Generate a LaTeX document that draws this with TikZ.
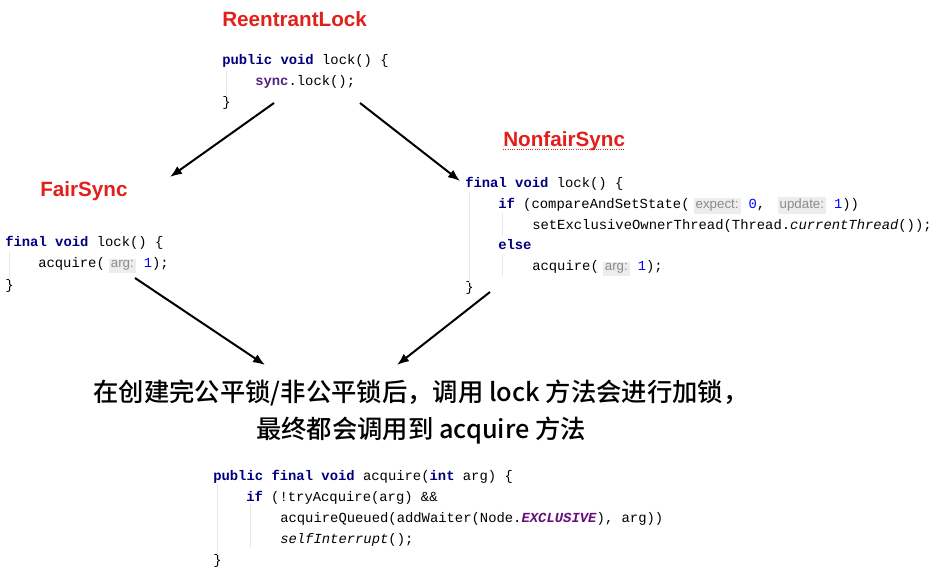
\documentclass[tikz,border=0pt]{standalone}
\usepackage{fontspec}
\usepackage{xcolor}
\usetikzlibrary{arrows.meta}
\setmainfont{Liberation Sans}
\setmonofont{Liberation Mono}
\newfontfamily\cjk{Noto Sans CJK SC}[BoldFont={Noto Sans CJK SC Medium}]
\newfontfamily\hintfont{Liberation Sans}
\definecolor{titlered}{RGB}{226,32,27}
\definecolor{kwblue}{RGB}{0,0,128}
\definecolor{numblue}{RGB}{0,0,255}
\definecolor{fieldpurple}{RGB}{82,36,130}
\definecolor{constpurple}{RGB}{102,14,122}
\definecolor{hintgray}{RGB}{140,140,140}
\definecolor{hintbg}{RGB}{237,237,237}
\definecolor{guidegray}{RGB}{230,230,230}
\newcommand{\kw}[1]{\textcolor{kwblue}{\textbf{#1}}}
\newcommand{\num}[1]{\textcolor{numblue}{#1}}
\newcommand{\fld}[1]{\textcolor{fieldpurple}{\textbf{#1}}}
\newcommand{\cnst}[1]{\textcolor{constpurple}{\textbf{\textit{#1}}}}
\newcommand{\hint}[1]{\hspace{3pt}{\setlength{\fboxsep}{1.5pt}\colorbox{hintbg}{\hintfont\fontsize{10}{12}\selectfont\textcolor{hintgray}{#1}}}\hspace{6pt}}
\tikzset{
  title/.style={anchor=base west, inner sep=0pt, text=titlered,
    font=\bfseries\fontsize{15.5}{18}\selectfont},
  code/.style={anchor=base west, inner sep=0pt, text=black,
    font=\ttfamily\fontsize{10.4}{12}\selectfont},
  guide/.style={draw=guidegray, line width=0.75pt},
  arr/.style={-{Latex[length=9pt,width=7pt]}, line width=1.5pt},
  summary/.style={align=center, inner sep=0pt,
    font=\cjk\bfseries\fontsize{19}{27.75}\selectfont}
}
\begin{document}
\begin{tikzpicture}[x=0.75pt,y=0.75pt]
	\useasboundingbox [fill=white] (0,0) rectangle (938,579);
	% ReentrantLock
	\node[title] (rlhead) at (222,552) {ReentrantLock};
	\node[code] (rl1) at (222,514) {\kw{public} \kw{void} lock() \{};
	\node[code] (rl2) at (255,493) {\fld{sync}.lock();};
	\node[code] (rl3) at (222,472) {\}};
	\draw[guide] (226,509) -- (226,482);
	% FairSync
	\node[title] (fairhead) at (40,382) {FairSync};
	\node[code] (f1) at (5,332) {\kw{final} \kw{void} lock() \{};
	\node[code] (f2) at (38,311) {acquire(\hint{arg:}\num{1});};
	\node[code] (f3) at (5,290) {\}};
	\draw[guide] (9,327) -- (9,299);
	% NonfairSync
	\node[title] (nfhead) at (503,432) {NonfairSync};
	\draw[titlered, densely dotted, line width=0.7pt] (nfhead.base west) ++(0,-2.5) -- ++(121,0);
	\node[code] (n1) at (465,391) {\kw{final} \kw{void} lock() \{};
	\node[code] (n2) at (498,370) {\kw{if} (compareAndSetState(\hint{expect:}\num{0},\ \hint{update:}\num{1}))};
	\node[code] (n3) at (532,349) {setExclusiveOwnerThread(Thread.\textit{currentThread}());};
	\node[code] (n4) at (498,329) {\kw{else}};
	\node[code] (n5) at (532,308) {acquire(\hint{arg:}\num{1});};
	\node[code] (n6) at (465,287) {\}};
	\draw[guide] (469,387) -- (469,296);
	\draw[guide] (502,366) -- (502,343);
	\draw[guide] (502,325) -- (502,303);
	% summary text
	\node[summary] (note) at (421,167) {在创建完公平锁/非公平锁后，调用 lock 方法会进行加锁，\\最终都会调用到 acquire 方法};
	% acquire
	\node[code] (a1) at (213,99) {\kw{public} \kw{final} \kw{void} acquire(\kw{int} arg) \{};
	\node[code] (a2) at (246,78) {\kw{if} (!tryAcquire(arg) \&\&};
	\node[code] (a3) at (280,57) {acquireQueued(addWaiter(Node.\cnst{EXCLUSIVE}), arg))};
	\node[code] (a4) at (280,36) {\textit{selfInterrupt}();};
	\node[code] (a5) at (213,15) {\}};
	\draw[guide] (217,95) -- (217,24);
	\draw[guide] (250,74) -- (250,32);
	% arrows
	\coordinate (rlleft) at (274,476);
	\coordinate (rlright) at (360,476);
	\coordinate (fairin) at (170,402);
	\coordinate (nfin) at (460,398);
	\coordinate (fairout) at (135,301);
	\coordinate (nfout) at (490,287);
	\coordinate (noteleft) at (265,214);
	\coordinate (noteright) at (397,214);
	\draw[arr] (rlleft) -- (fairin);
	\draw[arr] (rlright) -- (nfin);
	\draw[arr] (fairout) -- (noteleft);
	\draw[arr] (nfout) -- (noteright);
\end{tikzpicture}
\end{document}
